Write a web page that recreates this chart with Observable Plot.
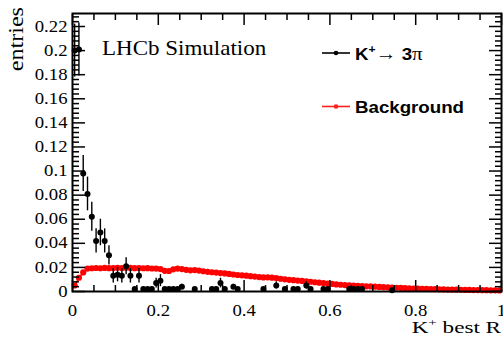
<!DOCTYPE html>
<html><head><meta charset="utf-8">
<script src="https://cdn.jsdelivr.net/npm/d3@7"></script>
<script src="https://cdn.jsdelivr.net/npm/@observablehq/plot@0.6"></script>
<style>body{margin:0;background:#fff}</style>
</head><body><div id="chart"></div>
<script>
// K+ -> 3pi (black, with errors)
const sigX = [0.005,0.015,0.025,0.035,0.045,0.055,0.065,0.075,0.085,0.095,0.105,0.115,0.125,0.135,0.145,0.155,0.165,0.175,0.185,0.195,0.205,0.215,0.225,0.235,0.245,0.255,0.285,0.325,0.335,0.345,0.355,0.375,0.385,0.445,0.475,0.495,0.515,0.525,0.545,0.555,0.585,0.595,0.645,0.655,0.665,0.675,0.745];
const sigY = [0.200,0.201,0.098,0.081,0.062,0.042,0.049,0.042,0.030,0.013,0.014,0.013,0.021,0.013,0.002,0.013,0.002,0.002,0.002,0.007,0.009,0.002,0.002,0.002,0.002,0.004,0.002,0.002,0.002,0.007,0.002,0.004,0.002,0.002,0.005,0.002,0.002,0.002,0.005,0.002,0.002,0.002,0.002,0.002,0.002,0.002,0.001];
const sigErr = [0.022,0.022,0.015,0.014,0.012,0.010,0.011,0.010,0.008,0.006,0.006,0.006,0.007,0.006,0.001,0.006,0.001,0.001,0.001,0.004,0.005,0.001,0.001,0.001,0.001,0.002,0.001,0.001,0.001,0.004,0.001,0.002,0.001,0.001,0.003,0.001,0.001,0.001,0.003,0.001,0.001,0.001,0.001,0.001,0.001,0.001,0.001];
// Background (red)
const bkgX = [0.005,0.015,0.025,0.035,0.045,0.055,0.065,0.075,0.085,0.095,0.105,0.115,0.125,0.135,0.145,0.155,0.165,0.175,0.185,0.195,0.205,0.215,0.225,0.235,0.245,0.255,0.265,0.275,0.285,0.295,0.305,0.315,0.325,0.335,0.345,0.355,0.365,0.375,0.385,0.395,0.405,0.415,0.425,0.435,0.445,0.455,0.465,0.475,0.485,0.495,0.505,0.515,0.525,0.535,0.545,0.555,0.565,0.575,0.585,0.595,0.605,0.615,0.625,0.635,0.645,0.655,0.665,0.675,0.685,0.695,0.705,0.715,0.725,0.735,0.745,0.755,0.765,0.775,0.785,0.795,0.805,0.815,0.825,0.835,0.845,0.855,0.865,0.875,0.885,0.895,0.905,0.915,0.925,0.935,0.945,0.955,0.965,0.975,0.985,0.995];
const bkgY = [0.0050,0.0114,0.0158,0.0190,0.0193,0.0195,0.0193,0.0196,0.0194,0.0195,0.0197,0.0195,0.0198,0.0196,0.0194,0.0195,0.0193,0.0194,0.0191,0.0190,0.0186,0.0172,0.0170,0.0184,0.0190,0.0186,0.0180,0.0176,0.0178,0.0174,0.0168,0.0163,0.0160,0.0157,0.0153,0.0150,0.0146,0.0141,0.0137,0.0134,0.0131,0.0127,0.0124,0.0120,0.0117,0.0118,0.0115,0.0112,0.0106,0.0101,0.0097,0.0094,0.0091,0.0088,0.0084,0.0081,0.0077,0.0073,0.0070,0.0066,0.0063,0.0059,0.0056,0.0053,0.0051,0.0049,0.0047,0.0045,0.0043,0.0042,0.0040,0.0038,0.0036,0.0035,0.0033,0.0031,0.0030,0.0028,0.0027,0.0025,0.0024,0.0023,0.0022,0.0020,0.0019,0.0018,0.0017,0.0016,0.0015,0.0015,0.0014,0.0013,0.0013,0.0012,0.0012,0.0011,0.0011,0.0010,0.0010,0.0009];

const xTicks = [0,0.2,0.4,0.6,0.8,1];
const xTickLabels = ["0","0.2","0.4","0.6","0.8","1"];
const yTicks = [0,0.02,0.04,0.06,0.08,0.1,0.12,0.14,0.16,0.18,0.2,0.22];
const yTickLabels = ["0","0.02","0.04","0.06","0.08","0.1","0.12","0.14","0.16","0.18","0.2","0.22"];
const xTitle = "K⁺ best R";
const yTitle = "entries";
const tagText = "LHCb Simulation";
const legendLabels = ["K⁺→ 3π","Background"];

const serif = "'Liberation Serif','Times New Roman',serif";
const sans = "'Liberation Sans',Arial,sans-serif";
const YMAX = 0.2308;

const sig = sigX.map((x,i)=>({x, y:sigY[i], e:sigErr[i]}));
const bkg = bkgX.map((x,i)=>({x, y:bkgY[i]}));
const xMinor = d3.range(0, 1.0001, 0.05).filter(v => Math.abs(v/0.2 - Math.round(v/0.2)) > 1e-6);
const yMinor = d3.range(0, YMAX, 0.004).filter(v => Math.abs(v/0.02 - Math.round(v/0.02)) > 1e-6);
const xLab = new Map(xTicks.map((t,i)=>[t,xTickLabels[i]]));
const yLab = new Map(yTicks.map((t,i)=>[t,yTickLabels[i]]));

const tickOpts = {fill:"none", label:null, strokeWidth:1.5};
const svg = Plot.plot({
  width:503, height:341,
  marginLeft:72, marginRight:2, marginTop:13, marginBottom:50,
  style:{fontFamily:serif, background:"white"},
  x:{domain:[0,1]},
  y:{domain:[0,YMAX]},
  marks:[
    Plot.line(bkg, {x:"x", y:"y", stroke:"#ff0000", strokeWidth:1.5}),
    Plot.dot(bkg, {x:"x", y:"y", r:3.1, fill:"#ff0000", stroke:"none"}),
    Plot.ruleX(sig, {x:"x", y1:d=>d.y-d.e, y2:d=>d.y+d.e, stroke:"black", strokeWidth:1.4}),
    Plot.dot(sig, {x:"x", y:"y", r:3, fill:"black", stroke:"none"}),
    // ticks inside the frame
    Plot.axisX(xTicks, {anchor:"bottom", tickSize:-11, ...tickOpts}),
    Plot.axisX(xMinor, {anchor:"bottom", tickSize:-6, ...tickOpts}),
    Plot.axisX(xTicks, {anchor:"top", tickSize:-11, ...tickOpts}),
    Plot.axisX(xMinor, {anchor:"top", tickSize:-6, ...tickOpts}),
    Plot.axisY(yTicks, {anchor:"left", tickSize:-13, ...tickOpts}),
    Plot.axisY(yMinor, {anchor:"left", tickSize:-7, ...tickOpts}),
    Plot.axisY(yTicks, {anchor:"right", tickSize:-13, ...tickOpts}),
    Plot.axisY(yMinor, {anchor:"right", tickSize:-7, ...tickOpts}),
    // labels
    Plot.axisX(xTicks, {anchor:"bottom", tickSize:0, tickPadding:13, label:null, tickFormat:d=>xLab.get(d), fontSize:16, fontFamily:serif, fill:"black"}),
    Plot.axisY(yTicks, {anchor:"left", tickSize:0, tickPadding:5, label:null, tickFormat:d=>yLab.get(d), fontSize:16, fontFamily:serif, fill:"black"}),
    Plot.frame({stroke:"black", strokeWidth:2})
  ]
});

const s = d3.select(svg);
// titles and annotations
s.append("text").attr("transform","translate(23,7) rotate(-90)").attr("data-sx",1.15)
  .attr("text-anchor","end").attr("font-family",serif).attr("font-size",21).attr("fill","black").text(yTitle);
const xt = s.append("text").attr("transform","translate(501,333)").attr("data-sx",1.36)
  .attr("text-anchor","end").attr("font-family",serif).attr("font-size",17).attr("fill","black");
xt.append("tspan").text(xTitle.slice(0,1));
xt.append("tspan").attr("font-size",11).attr("dy",-7).text("+");
xt.append("tspan").attr("dy",7).text(xTitle.slice(2));
s.append("text").attr("transform","translate(102,55)").attr("data-sx",1.15)
  .attr("text-anchor","start").attr("font-family",serif).attr("font-size",20).attr("fill","black").text(tagText);

// legend
const leg = [{c:"black", y:53, ty:59.5}, {c:"#ff2020", y:106.5, ty:112.5}];
leg.forEach((l,i)=>{
  s.append("line").attr("x1",322).attr("x2",350).attr("y1",l.y).attr("y2",l.y).attr("stroke",l.c).attr("stroke-width",1.6);
  s.append("circle").attr("cx",336).attr("cy",l.y).attr("r",2.3).attr("fill",l.c);
  const t = s.append("text").attr("transform",`translate(355,${l.ty})`).attr("data-sx",1.1)
    .attr("text-anchor","start").attr("font-family",sans).attr("font-weight","bold").attr("font-size",17).attr("fill","black");
  if (i===0) {
    t.append("tspan").text("K");
    t.append("tspan").attr("font-size",11).attr("dy",-7).text("+");
    t.append("tspan").attr("dy",7).attr("font-weight","normal").attr("font-family",serif).attr("font-size",19).text("→");
    t.append("tspan").text(" 3");
    t.append("tspan").attr("font-weight","normal").attr("font-family",serif).attr("font-size",19).text("π");
  } else {
    t.text(legendLabels[1]);
  }
});

// horizontal stretch of text (matches the reference's wide glyphs)
s.selectAll("text").each(function(){
  const tr = this.getAttribute("transform");
  const sx = this.getAttribute("data-sx") || 1.17;
  if (tr && tr.includes("translate")) this.setAttribute("transform", tr + ` scale(${sx},1)`);
});

document.getElementById("chart").appendChild(svg);
</script>
</body></html>
